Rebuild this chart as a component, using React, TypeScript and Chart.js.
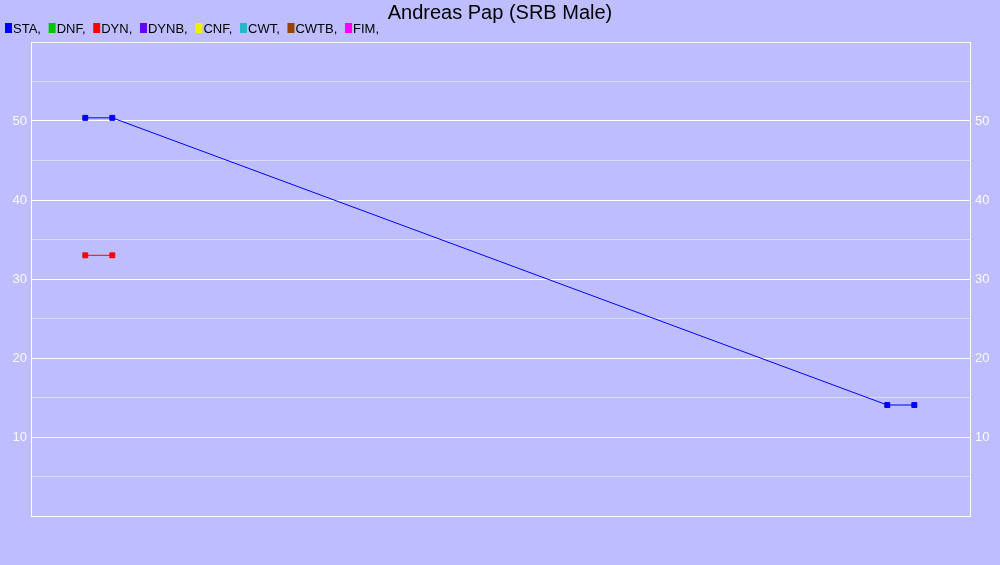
import React, { useEffect, useRef } from "react";
import { Chart, registerables } from "chart.js";

Chart.register(...registerables);

const TITLE = "Andreas Pap (SRB Male)";
const SERIES_NAMES = ["STA", "DNF", "DYN", "DYNB", "CNF", "CWT", "CWTB", "FIM"];
const SERIES_COLORS = ["#0000ff", "#00c800", "#ff0000", "#6600ff", "#eeee00", "#22bbcc", "#994400", "#ff00ff"];
const STA_X = [5.78, 8.66, 91.19, 94.07];
const STA_Y = [50.4, 50.4, 14.05, 14.05];
const DYN_X = [5.78, 8.66];
const DYN_Y = [33.0, 33.0];
const Y_MIN = 0;
const Y_MAX = 60;
const Y_STEP = 5;
const Y_LABELS = [10, 20, 30, 40, 50];

const BG = "#bebeff";

export default function App() {
  const ref = useRef<HTMLCanvasElement | null>(null);
  useEffect(() => {
    document.body.style.margin = "0";
    const canvas = ref.current;
    if (!canvas) return;

    const seriesData: Record<string, { x: number; y: number }[]> = {
      STA: STA_X.map((x, i) => ({ x, y: STA_Y[i] })),
      DYN: DYN_X.map((x, i) => ({ x, y: DYN_Y[i] })),
    };

    const datasets = SERIES_NAMES.map((name, i) => ({
      label: name,
      data: seriesData[name] || [],
      borderColor: SERIES_COLORS[i],
      backgroundColor: SERIES_COLORS[i],
      borderWidth: 1,
      pointStyle: "rect" as const,
      pointRadius: 3.5,
      pointBorderWidth: 1,
      tension: 0,
    }));

    const bgPlugin = {
      id: "bg",
      beforeDraw(chart: any) {
        const c = chart.ctx;
        c.save();
        c.fillStyle = BG;
        c.fillRect(0, 0, chart.width, chart.height);
        c.restore();
      },
    };

    const legendPlugin = {
      id: "customLegend",
      afterDraw(chart: any) {
        const c = chart.ctx;
        c.save();
        c.font = "13px 'Liberation Sans', Arial, sans-serif";
        c.textBaseline = "alphabetic";
        let x = 5;
        SERIES_NAMES.forEach((name, i) => {
          c.fillStyle = SERIES_COLORS[i];
          c.fillRect(x, 23, 7, 10);
          c.fillStyle = "#000";
          const t = name + ",";
          c.fillText(t, x + 8, 33);
          x += 8 + c.measureText(t).width + 7.7;
        });
        c.restore();
      },
    };

    const tickCb = (v: any) => (Y_LABELS.includes(Number(v)) ? String(v) : "");
    const gridColor = (ctx: any) =>
      ctx.tick && ctx.tick.value % 10 === 0 ? "#ffffff" : "rgba(255,255,255,0.45)";

    const chart = new Chart(canvas, {
      type: "line",
      data: { datasets },
      plugins: [bgPlugin, legendPlugin],
      options: {
        animation: false,
        responsive: false,
        maintainAspectRatio: false,
        layout: { padding: { top: 0, bottom: 49, left: 0, right: 0 } },
        plugins: {
          legend: { display: false },
          tooltip: { enabled: false },
          title: {
            display: true,
            text: TITLE,
            color: "#000",
            font: { size: 20, family: "'Liberation Sans', Arial, sans-serif", weight: "normal" },
            padding: { top: 1.5, bottom: 16.5 },
          },
        },
        scales: {
          x: {
            type: "linear",
            min: 0,
            max: 100,
            position: "bottom",
            ticks: { display: false },
            grid: { display: false, drawTicks: false },
            border: { display: true, color: "#ffffff", width: 1 },
            afterFit: (s: any) => { s.height = 0; },
          },
          xTop: {
            type: "linear",
            min: 0,
            max: 100,
            position: "top",
            ticks: { display: false },
            grid: { display: false, drawTicks: false },
            border: { display: true, color: "#ffffff", width: 1 },
            afterFit: (s: any) => { s.height = 0; },
          },
          y: {
            type: "linear",
            position: "left",
            min: Y_MIN,
            max: Y_MAX,
            ticks: {
              stepSize: Y_STEP,
              callback: tickCb,
              color: "rgba(255,255,255,0.92)",
              font: { size: 13, family: "'Liberation Sans', Arial, sans-serif" },
              padding: 4,
            },
            grid: { color: gridColor, drawTicks: false, lineWidth: 1 },
            border: { display: true, color: "#ffffff", width: 1 },
            afterFit: (s: any) => { s.width = 31; },
          },
          y2: {
            type: "linear",
            position: "right",
            min: Y_MIN,
            max: Y_MAX,
            ticks: {
              stepSize: Y_STEP,
              callback: tickCb,
              color: "rgba(255,255,255,0.92)",
              font: { size: 13, family: "'Liberation Sans', Arial, sans-serif" },
              padding: 5,
            },
            grid: { display: false, drawTicks: false },
            border: { display: true, color: "#ffffff", width: 1 },
            afterFit: (s: any) => { s.width = 30; },
          },
        },
      } as any,
    });
    return () => chart.destroy();
  }, []);

  return (
    <div style={{ position: "fixed", left: 0, top: 0, width: 1000, height: 565, background: BG }}>
      <canvas ref={ref} width={1000} height={565} style={{ display: "block", width: 1000, height: 565 }} />
    </div>
  );
}
